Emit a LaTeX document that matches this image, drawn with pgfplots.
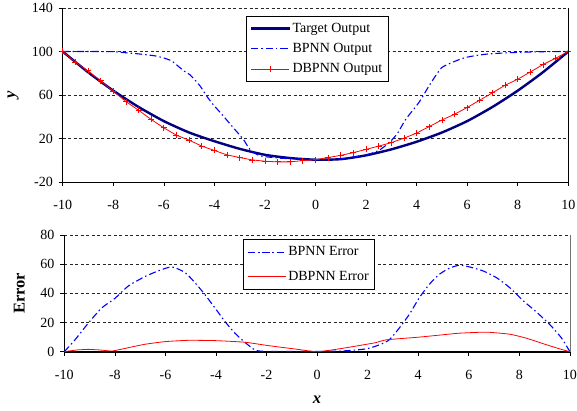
\documentclass[border=0pt]{standalone}
\usepackage{fontspec}
\setmainfont{Liberation Serif}
\usepackage{pgfplots}
\pgfplotsset{compat=1.18}

\definecolor{navyline}{RGB}{0,0,128}
\definecolor{bpblue}{RGB}{0,0,255}
\definecolor{dbred}{RGB}{255,0,0}

\pgfplotsset{
  excelbase/.style={
    scale only axis, width=505.6pt,
    axis lines*=left,
    xmin=-10, xmax=10, xtick={-10,-8,...,10},
    tick align=outside, major tick length=4pt,
    tick style={black, line width=0.6pt},
    axis line style={black, line width=0.8pt},
    ymajorgrids, grid style={black!85, dash pattern=on 3pt off 2.5pt, line width=0.6pt},
    /pgf/number format/assume math mode=true,
    tick label style={font=\fontsize{14}{16}\selectfont},
    xticklabel style={yshift=-11pt},
    yticklabel style={xshift=-2.3pt},
    clip mode=individual,
    legend cell align=left,
    legend style={font=\fontsize{14}{16}\selectfont, draw=black, line width=0.8pt,
      anchor=north west, inner xsep=4pt, inner ysep=5pt},
    legend image code/.code={
      \draw[mark repeat=2, mark phase=2, #1] plot coordinates {(0pt,0pt) (19pt,0pt) (38pt,0pt)};
    },
  },
  bpstyle/.style={bpblue, line width=1.1pt, dash pattern=on 7pt off 3pt on 1.5pt off 3pt, no markers},
}

\begin{document}
\begin{tikzpicture}
% upper chart: outputs
\begin{axis}[excelbase,
  name=top, at={(0pt,0pt)}, anchor=south west,
  height=174pt,
  ymin=-20, ymax=140, ytick={-20,20,60,100,140},
  ylabel={\fontsize{16.5}{18}\selectfont\textbf{\textit{y}}},
  ylabel style={at={(axis description cs:-0.098,0.5)}, anchor=center},
  legend style={at={(0.362,0.956)}, row sep=5.5pt},
]
\addplot[navyline, line width=2.4pt, smooth, tension=0.4] coordinates {
  (-10,100) (-9,81) (-8,64) (-7,49) (-6,36) (-5,25.5) (-4,17.5) (-3,10.5) (-2,5) (-1,2)
  (0,0.5) (1,1) (2,4.5) (3,10) (4,17) (5,25.5) (6,36) (7,49) (8,64) (9,81) (10,100)
};
\addlegendentry{Target Output}
\addplot[bpstyle, smooth, tension=0.4] coordinates {
  (-10,100) (-9,100) (-8,99.8) (-7.4,98.6) (-7,97.8) (-6.35,96) (-6,94) (-5.7,91.4)
  (-5.38,85.5) (-5.2,82) (-4.96,78.5) (-4.57,68.4) (-4.31,59.2) (-4.04,51) (-3.65,40.8)
  (-3.26,30.1) (-2.86,19.4) (-2.6,10.2) (-2.2,4.1) (-1.4,1.9) (-1,1.5) (0,0.5) (1,1.2)
  (2,5) (2.5,9) (2.92,16.3) (3.25,25) (3.57,37.7) (4.09,53.1) (4.49,68.4) (4.75,77.6)
  (5.0,85.3) (5.4,89.9) (5.94,94.5) (6.73,97.5) (7.78,99) (9,99.8) (10,100)
};
\addlegendentry{BPNN Output}
\addplot[dbred, line width=0.8pt, mark=+, mark size=3pt, mark options={solid, line width=0.8pt}] coordinates {
  (-10,100) (-9.5,90.3) (-9,82.2) (-8.5,73) (-8,63.5) (-7.5,54) (-7,46) (-6.5,37.5)
  (-6,29.8) (-5.5,23) (-5,18.5) (-4.5,13) (-4,9) (-3.5,4.9) (-3,2.5) (-2.5,0.3)
  (-2,-0.9) (-1.5,-1.5) (-1,-1.5) (-0.5,-0.3) (0,0.5) (0.5,2.5) (1,4.5) (1.5,7)
  (2,10) (2.5,13) (3,16.2) (3.5,20.3) (4,25) (4.5,31) (5,37) (5.5,42.3) (6,48.5)
  (6.5,55.3) (7,62) (7.5,69) (8,74.5) (8.5,81.2) (9,88) (9.5,93.8) (10,100)
};
\addlegendentry{DBPNN Output}
\draw[black, line width=0.6pt] (axis cs:10,-20) -- (axis cs:10,140);
\end{axis}

% lower chart: errors
\begin{axis}[excelbase,
  name=bottom, at={(1.6pt,-169.7pt)}, anchor=south west,
  height=116.7pt,
  ymin=0, ymax=80, ytick={0,20,40,60,80},
  x axis line style={line width=1.6pt},
  ylabel={\fontsize{16.5}{18}\selectfont\textbf{Error}},
  ylabel style={at={(axis description cs:-0.089,0.5)}, anchor=center},
  xlabel={\fontsize{16.5}{18}\selectfont\textbf{\textit{x}}},
  xlabel style={at={(axis description cs:0.5,0)}, yshift=-48pt, anchor=center},
  legend style={at={(0.353,0.963)}, row sep=10pt},
]
\addplot[bpstyle, smooth, tension=0.4] coordinates {
  (-10,0) (-9.58,8.1) (-9.05,19.6) (-8.52,30) (-8,36.5) (-7.47,45) (-6.81,51.5)
  (-6.28,55.4) (-5.75,58.1) (-5.23,54.3) (-4.83,47.3) (-4.44,39.2) (-4.04,30)
  (-3.65,20.8) (-3.25,12.7) (-2.86,6.5) (-2.46,1.2) (-2.06,0.2) (-1,0.2) (0,0.2)
  (1,0.5) (1.92,1.9) (2.45,4.6) (2.85,8.1) (3.25,16.2) (3.64,25.4) (4.04,36.9)
  (4.44,46.2) (4.84,53.1) (5.23,57.2) (5.63,59.3) (6.03,58.1) (6.56,55.4) (7.09,50.8)
  (7.62,43.9) (8.14,35.1) (8.67,27.3) (9.21,18.5) (9.67,9.3) (10,0)
};
\addlegendentry{BPNN Error}
\addplot[dbred, line width=0.8pt, smooth, tension=0.3] coordinates {
  (-10,0) (-9.5,1.2) (-9.05,1.6) (-8.6,1.2) (-8.1,0.5) (-7.4,3) (-6.81,5.1)
  (-6.02,6.9) (-5.1,7.8) (-4.04,7.6) (-2.86,6.5) (-1.94,4.2) (-0.89,1.9) (0,0)
  (1,2.3) (2.32,6.2) (2.71,8.1) (4.04,10) (4.97,11.6) (5.63,12.7) (6.69,13.4)
  (7.62,12) (8.27,9.3) (8.94,5.5) (9.6,1.9) (10,0)
};
\addlegendentry{DBPNN Error}
\draw[black!55, line width=0.6pt] (axis cs:10,0) -- (axis cs:10,80);
\end{axis}
\pgfresetboundingbox
\path[use as bounding box] (-62.7pt,-229pt) rectangle (514.3pt,182pt);
\end{tikzpicture}
\end{document}
